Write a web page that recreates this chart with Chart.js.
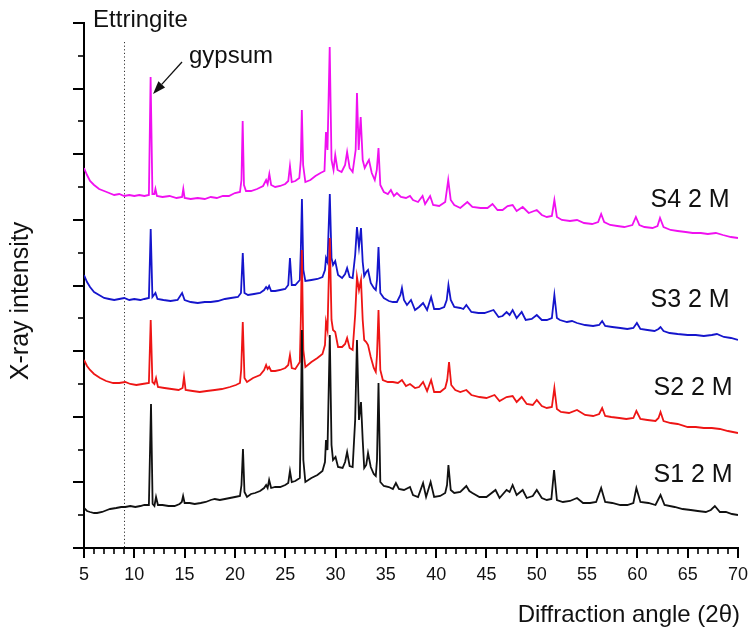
<!DOCTYPE html>
<html>
<head>
<meta charset="utf-8">
<script src="https://cdn.jsdelivr.net/npm/chart.js@4.4.0/dist/chart.umd.min.js"></script>
<style>
  html, body { margin: 0; padding: 0; background: #ffffff; }
  canvas { display: block; }
</style>
</head>
<body>
<canvas id="xrd" width="754" height="634"></canvas>
<script>
// XRD patterns: [2θ (deg), intensity (a.u., patterns stacked with vertical offsets)]
const S1_2M = [
  [5.0,40],[5.3,37],[5.6,36],[6.0,35],[6.3,35],[6.8,36],[7.3,38],[7.6,39],[8.2,40],[8.7,41],
  [9.1,41],[9.6,42],[10.1,41],[10.6,42],[11.0,43],[11.45,43],[11.66,144],[11.82,44],[12.0,42],[12.16,51],
  [12.35,43],[12.8,43],[13.4,42],[14.0,42],[14.5,44],[14.72,46],[14.85,52],[15.0,45],[15.5,45],[16.0,44],
  [16.6,45],[17.1,46],[17.6,48],[18.0,49],[18.5,48],[19.0,49],[19.5,50],[20.0,51],[20.5,52],[20.65,63],
  [20.8,99],[20.95,56],[21.2,51],[21.6,54],[22.0,55],[22.5,57],[22.9,60],[23.1,63],[23.25,60],[23.4,68],
  [23.6,60],[24.0,61],[24.5,61],[25.0,63],[25.3,65],[25.47,77],[25.65,66],[26.0,67],[26.45,70],[26.55,128],
  [26.66,218],[26.8,88],[27.0,66],[27.6,70],[28.2,73],[28.7,77],[28.95,86],[29.05,108],[29.2,98],[29.43,213],
  [29.6,103],[29.75,88],[30.0,91],[30.25,81],[30.7,80],[30.95,86],[31.15,96],[31.4,82],[31.7,81],[31.95,128],
  [32.13,208],[32.33,128],[32.53,146],[32.7,108],[32.85,80],[33.05,83],[33.23,95],[33.5,81],[33.8,74],[34.0,72],
  [34.12,88],[34.27,165],[34.45,66],[34.8,62],[35.3,61],[35.7,59],[36.0,65],[36.3,59],[36.8,58],[37.4,61],
  [37.7,53],[38.2,51],[38.7,65],[39.0,51],[39.45,66],[39.8,51],[40.4,52],[40.9,55],[41.08,63],[41.22,83],
  [41.45,58],[41.8,55],[42.4,56],[43.0,62],[43.3,57],[43.6,55],[44.3,51],[45.0,51],[45.9,58],[46.3,50],
  [47.0,58],[47.3,56],[47.6,63],[48.0,53],[48.6,58],[49.0,50],[49.6,52],[50.0,58],[50.5,50],[51.0,48],
  [51.45,49],[51.72,78],[52.0,48],[52.6,46],[53.3,47],[54.0,50],[54.6,45],[55.3,45],[55.9,46],[56.4,60],
  [56.8,46],[57.5,45],[58.3,43],[59.0,43],[59.6,45],[59.9,60],[60.3,46],[61.1,45],[61.8,43],[62.3,53],
  [62.7,43],[63.7,41],[64.5,39],[65.3,38],[66.0,37],[66.8,36],[67.3,38],[67.7,42],[68.2,36],[68.8,36],
  [69.4,34],[70.0,33]
];

const S2_2M = [
  [5.0,188],[5.3,182],[5.6,178],[6.0,174],[6.6,170],[7.2,167],[7.9,165],[8.5,165],[9.1,166],[9.6,164],
  [10.2,163],[10.8,164],[11.45,165],[11.63,228],[11.8,166],[12.0,164],[12.16,170],[12.35,161],[13.0,160],[13.7,159],
  [14.4,158],[14.8,160],[14.94,171],[15.1,158],[15.8,157],[16.5,156],[17.2,157],[18.0,158],[18.7,159],[19.5,161],
  [20.1,163],[20.5,165],[20.62,178],[20.78,226],[20.95,170],[21.2,166],[21.8,170],[22.5,173],[22.9,178],[23.1,183],
  [23.25,179],[23.4,181],[23.6,177],[24.0,177],[24.5,178],[25.0,180],[25.3,183],[25.47,193],[25.65,180],[26.0,179],
  [26.45,186],[26.55,228],[26.65,298],[26.8,198],[27.0,181],[27.6,186],[28.2,190],[28.7,194],[28.95,203],[29.05,226],
  [29.2,218],[29.43,310],[29.6,228],[29.75,218],[29.97,216],[30.25,201],[30.65,201],[30.95,204],[31.15,210],[31.4,200],
  [31.7,198],[31.95,233],[32.13,271],[32.33,258],[32.53,268],[32.7,228],[32.85,208],[33.05,206],[33.23,203],[33.5,191],
  [33.8,180],[34.0,176],[34.12,193],[34.27,238],[34.45,178],[34.7,168],[35.2,166],[35.7,166],[36.2,165],[36.6,168],
  [37.0,162],[37.4,164],[37.9,160],[38.3,161],[38.7,166],[39.1,157],[39.5,168],[39.8,156],[40.4,156],[40.9,160],
  [41.1,168],[41.28,186],[41.5,163],[41.9,158],[42.4,156],[43.0,158],[43.5,153],[44.3,151],[45.0,150],[45.8,153],
  [46.3,147],[47.0,151],[47.6,152],[48.0,146],[48.5,151],[49.0,144],[49.6,143],[50.0,148],[50.5,142],[51.0,140],
  [51.5,141],[51.75,160],[52.0,139],[52.4,136],[53.2,135],[54.0,138],[54.8,133],[55.6,132],[56.2,134],[56.5,140],
  [56.8,132],[57.4,131],[58.2,130],[58.9,129],[59.6,130],[59.9,137],[60.3,129],[61.0,128],[61.8,127],[62.1,130],
  [62.3,136],[62.6,127],[63.3,125],[64.0,124],[65.0,121],[65.8,121],[66.6,120],[67.4,120],[68.2,119],[69.0,117],
  [70.0,115]
];

const S3_2M = [
  [5.0,273],[5.3,266],[5.6,261],[6.0,256],[6.5,253],[7.0,250],[7.5,249],[8.0,248],[8.5,249],[9.0,250],
  [9.5,248],[10.0,249],[10.6,248],[11.0,249],[11.45,250],[11.63,319],[11.8,251],[12.1,255],[12.3,249],[12.9,248],
  [13.6,247],[14.3,248],[14.75,255],[15.0,248],[15.6,246],[16.3,245],[17.0,246],[17.6,246],[18.3,247],[19.0,249],
  [19.6,250],[20.3,251],[20.6,255],[20.78,295],[20.95,255],[21.3,253],[21.9,254],[22.5,255],[22.9,258],[23.1,261],
  [23.25,259],[23.4,262],[23.6,257],[24.0,257],[24.5,258],[25.0,259],[25.3,263],[25.47,290],[25.65,263],[26.0,263],
  [26.45,268],[26.55,298],[26.66,349],[26.8,278],[27.0,267],[27.6,268],[28.2,269],[28.7,271],[28.95,278],[29.05,290],
  [29.2,286],[29.43,354],[29.6,290],[29.75,283],[29.97,287],[30.25,273],[30.65,270],[30.95,274],[31.15,280],[31.4,271],
  [31.7,270],[31.95,293],[32.13,321],[32.33,301],[32.53,320],[32.7,286],[32.85,272],[33.05,276],[33.23,278],[33.5,265],
  [33.8,260],[34.0,258],[34.12,268],[34.27,301],[34.45,255],[34.8,250],[35.3,247],[35.7,246],[36.1,246],[36.45,253],
  [36.6,260],[36.8,248],[37.1,243],[37.5,248],[37.9,238],[38.3,241],[38.7,245],[39.1,238],[39.5,251],[39.8,239],
  [40.3,239],[40.8,241],[41.05,248],[41.22,263],[41.45,248],[41.8,241],[42.4,240],[42.7,239],[43.0,243],[43.5,236],
  [44.2,235],[44.8,235],[45.7,238],[46.2,231],[46.6,232],[47.0,236],[47.3,233],[47.6,238],[48.0,230],[48.5,236],
  [48.9,228],[49.5,229],[50.0,233],[50.5,228],[51.0,228],[51.5,230],[51.75,253],[52.0,230],[52.3,228],[53.0,226],
  [53.5,227],[54.0,225],[54.8,223],[55.6,222],[56.2,223],[56.5,227],[56.8,222],[57.5,221],[58.3,220],[59.0,219],
  [59.6,220],[59.95,225],[60.3,219],[61.0,218],[61.7,217],[62.1,219],[62.3,221],[62.6,217],[63.2,215],[64.0,214],
  [65.0,213],[65.8,213],[66.6,212],[67.4,213],[67.9,214],[68.6,211],[69.3,210],[70.0,208]
];

const S4_2M = [
  [5.0,380],[5.3,373],[5.6,367],[6.0,363],[6.5,359],[7.0,357],[7.5,355],[8.0,353],[8.5,354],[9.0,352],
  [9.5,353],[10.0,352],[10.5,353],[11.0,352],[11.45,353],[11.62,471],[11.8,354],[12.0,354],[12.1,359],[12.25,352],
  [12.8,351],[13.5,352],[14.2,350],[14.75,351],[14.87,359],[15.0,350],[15.6,349],[16.3,350],[17.0,349],[17.6,351],
  [18.2,350],[18.8,352],[19.4,352],[20.0,355],[20.5,356],[20.65,368],[20.77,427],[20.9,363],[21.1,357],[21.6,357],
  [22.2,359],[22.8,362],[23.1,368],[23.25,364],[23.42,374],[23.6,363],[24.0,361],[24.5,362],[25.0,364],[25.3,367],
  [25.47,382],[25.65,366],[26.0,367],[26.4,370],[26.55,388],[26.65,438],[26.78,383],[27.0,366],[27.5,368],[28.0,372],
  [28.5,375],[28.9,377],[29.05,416],[29.2,398],[29.42,501],[29.6,388],[29.8,378],[29.97,393],[30.2,378],[30.6,376],
  [30.95,383],[31.15,396],[31.4,380],[31.7,376],[32.0,398],[32.13,455],[32.3,398],[32.5,431],[32.7,388],[32.9,380],
  [33.2,386],[33.32,388],[33.6,375],[33.9,368],[34.1,378],[34.27,400],[34.45,363],[34.8,356],[35.2,354],[35.5,358],
  [35.8,352],[36.1,355],[36.5,351],[37.0,350],[37.4,352],[37.7,348],[38.2,346],[38.65,352],[38.9,344],[39.4,352],
  [39.7,343],[40.3,342],[40.9,346],[41.2,368],[41.45,348],[41.8,343],[42.4,340],[43.1,346],[43.6,341],[44.4,340],
  [45.1,340],[45.6,344],[46.1,338],[46.6,338],[47.1,342],[47.6,343],[48.0,337],[48.6,341],[49.2,335],[50.0,338],
  [50.5,333],[51.0,331],[51.5,332],[51.75,348],[52.0,331],[52.5,328],[53.3,327],[54.0,328],[54.7,325],[55.5,324],
  [56.1,326],[56.4,334],[56.7,326],[57.3,323],[58.0,322],[58.7,321],[59.5,323],[59.85,331],[60.2,323],[60.7,321],
  [61.5,320],[62.0,322],[62.25,330],[62.6,321],[63.3,318],[64.0,317],[64.8,316],[65.5,315],[66.3,315],[67.0,314],
  [67.8,315],[68.5,313],[69.3,311],[70.0,310]
];

const seriesNames  = ['S1 2 M', 'S2 2 M', 'S3 2 M', 'S4 2 M'];
const seriesData   = [S1_2M, S2_2M, S3_2M, S4_2M];
const seriesColors = ['#111111', '#ee1515', '#1515cc', '#f010f0'];

const ANGLE_MIN = 5, ANGLE_MAX = 70, ANGLE_MAJOR = 5;
const INTENSITY_MAX = 525, INTENSITY_DIVISIONS = 16;

const ETTRINGITE_ANGLE = 9;
const X_TITLE = 'Diffraction angle (2θ)';
const Y_TITLE = 'X-ray intensity';

const FONT = '"Liberation Sans", Arial, Helvetica, sans-serif';

// Hand-placed decorations: axis ticks, titles, phase markers and pattern names
const decorations = {
  id: 'decorations',
  beforeDatasetsDraw(chart) {
    const { ctx, scales: { x, y } } = chart;
    const px = x.getPixelForValue(ETTRINGITE_ANGLE);
    ctx.save();
    ctx.strokeStyle = '#333333';
    ctx.lineWidth = 1;
    ctx.setLineDash([1.2, 2.4]);
    ctx.beginPath();
    ctx.moveTo(Math.round(px) + 0.5, y.getPixelForValue(506));
    ctx.lineTo(Math.round(px) + 0.5, y.getPixelForValue(0));
    ctx.stroke();
    ctx.restore();
  },
  afterDraw(chart) {
    const { ctx, scales: { x, y } } = chart;
    const base = y.getPixelForValue(0);
    const left = x.getPixelForValue(ANGLE_MIN);
    ctx.save();
    ctx.strokeStyle = '#000000';

    // x-axis ticks: major every 5°, minor every 1°, pointing outward
    for (let a = ANGLE_MIN; a <= ANGLE_MAX; a++) {
      const p = Math.round(x.getPixelForValue(a));
      const major = a % ANGLE_MAJOR === 0;
      ctx.lineWidth = major ? 2 : 1.6;
      ctx.beginPath();
      ctx.moveTo(p, base);
      ctx.lineTo(p, base + (major ? 10 : 6));
      ctx.stroke();
    }
    // y-axis ticks: alternating major / minor, no labels
    for (let i = 0; i <= INTENSITY_DIVISIONS; i++) {
      const p = Math.round(y.getPixelForValue(i * INTENSITY_MAX / INTENSITY_DIVISIONS));
      const major = i % 2 === 0;
      ctx.lineWidth = major ? 2 : 1.6;
      ctx.beginPath();
      ctx.moveTo(left, p);
      ctx.lineTo(left - (major ? 11 : 6), p);
      ctx.stroke();
    }

    ctx.fillStyle = '#111111';
    // axis titles
    ctx.font = '24px ' + FONT;
    ctx.textAlign = 'right';
    ctx.textBaseline = 'alphabetic';
    ctx.fillText(X_TITLE, 740, 622);

    ctx.save();
    ctx.translate(28, 301);
    ctx.rotate(-Math.PI / 2);
    ctx.font = '25px ' + FONT;
    ctx.textAlign = 'center';
    ctx.fillText(Y_TITLE, 0, 0);
    ctx.restore();

    // phase markers
    ctx.font = '24px ' + FONT;
    ctx.textAlign = 'left';
    ctx.fillText('Ettringite', x.getPixelForValue(5.9), y.getPixelForValue(521));
    ctx.fillText('gypsum', x.getPixelForValue(15.43), y.getPixelForValue(485));

    // arrow pointing at the gypsum reflection
    const x0 = x.getPixelForValue(14.74), y0 = y.getPixelForValue(486);
    const x1 = x.getPixelForValue(11.86), y1 = y.getPixelForValue(454);
    const ang = Math.atan2(y1 - y0, x1 - x0);
    const headLen = 13, headHalf = 4.5;
    const bx = x1 - headLen * Math.cos(ang), by = y1 - headLen * Math.sin(ang);
    ctx.lineWidth = 1.3;
    ctx.strokeStyle = '#111111';
    ctx.beginPath();
    ctx.moveTo(x0, y0);
    ctx.lineTo(bx, by);
    ctx.stroke();
    ctx.beginPath();
    ctx.moveTo(x1, y1);
    ctx.lineTo(bx + headHalf * Math.sin(ang), by - headHalf * Math.cos(ang));
    ctx.lineTo(bx - headHalf * Math.sin(ang), by + headHalf * Math.cos(ang));
    ctx.closePath();
    ctx.fill();

    // pattern names beside each trace
    const nameAnchors = [[61.6, 66], [61.6, 153], [61.3, 241], [61.3, 341]];
    ctx.font = '25px ' + FONT;
    seriesNames.forEach((name, i) => {
      ctx.fillText(name, x.getPixelForValue(nameAnchors[i][0]), y.getPixelForValue(nameAnchors[i][1]));
    });
    ctx.restore();
  }
};

new Chart(document.getElementById('xrd'), {
  type: 'line',
  data: {
    datasets: seriesData.map((pts, i) => ({
      label: seriesNames[i],
      data: pts.map(([a, v]) => ({ x: a, y: v })),
      borderColor: seriesColors[i],
      borderWidth: 1.8,
      pointRadius: 0,
      tension: 0,
      fill: false
    }))
  },
  options: {
    responsive: false,
    animation: false,
    devicePixelRatio: 1,
    layout: { padding: { left: 0, right: 16, top: 23, bottom: 0 } },
    plugins: { legend: { display: false }, tooltip: { enabled: false } },
    scales: {
      x: {
        type: 'linear',
        min: ANGLE_MIN,
        max: ANGLE_MAX,
        grid: { display: false, drawTicks: true, tickLength: 13 },
        border: { display: true, color: '#000000', width: 2 },
        ticks: {
          stepSize: ANGLE_MAJOR,
          autoSkip: false,
          maxRotation: 0,
          padding: 3,
          color: '#111111',
          font: { family: FONT, size: 18 }
        },
        afterFit(scale) {
          scale.height = 86;
          scale.paddingLeft = 0;
          scale.paddingRight = 0;
        }
      },
      y: {
        type: 'linear',
        min: 0,
        max: INTENSITY_MAX,
        grid: { display: false, drawTicks: false },
        border: { display: true, color: '#000000', width: 2 },
        ticks: { display: false },
        afterFit(scale) { scale.width = 84; }
      }
    }
  },
  plugins: [decorations]
});
</script>
</body>
</html>
